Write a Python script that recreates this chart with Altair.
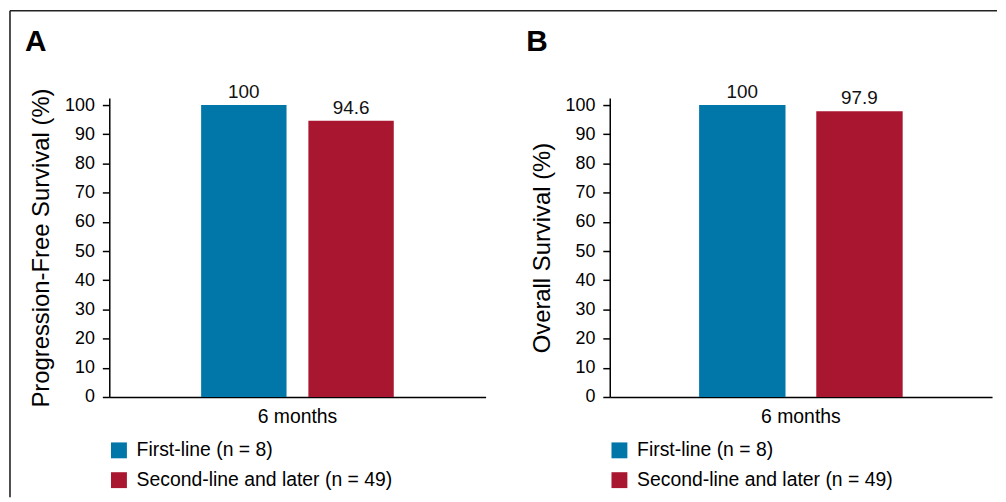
import altair as alt
import pandas as pd

FONT = "Liberation Sans"

groups = ["First-line (n = 8)", "Second-line and later (n = 49)"]
colors = ["#0077A8", "#A8172F"]
timepoint = "6 months"
pfs_values = [100, 94.6]
os_values = [100, 97.9]
y_ticks = [0, 10, 20, 30, 40, 50, 60, 70, 80, 90, 100]


def panel(values, ytitle, letter, width, po, pi, letter_x, frame=False):
    df = pd.DataFrame({
        "time": [timepoint] * len(groups),
        "group": groups,
        "value": values,
        "label": [f"{v:g}" for v in values],
    })
    base = alt.Chart(df).encode(
        x=alt.X("time:N", scale=alt.Scale(paddingInner=0, paddingOuter=po),
                axis=alt.Axis(title=None, labelAngle=0, ticks=False, labelPadding=11,
                              labelFontSize=19.5, labelFont=FONT, labelColor="black",
                              domainColor="black", domainWidth=1.5)),
        xOffset=alt.XOffset("group:N", sort=groups,
                            scale=alt.Scale(paddingInner=pi, paddingOuter=0)),
        y=alt.Y("value:Q", scale=alt.Scale(domain=[0, 102.4], nice=False),
                axis=alt.Axis(values=y_ticks, title=ytitle, grid=False,
                              labelFontSize=18, labelFont=FONT, labelColor="black",
                              labelPadding=8, tickSize=7, tickColor="black", tickWidth=1.5,
                              domainColor="black", domainWidth=1.5,
                              titleFontSize=24, titleFont=FONT, titleFontWeight="normal",
                              titleColor="black", titlePadding=11)),
    )
    bars = base.mark_bar().encode(
        color=alt.Color("group:N", sort=groups,
                        scale=alt.Scale(domain=groups, range=colors),
                        legend=alt.Legend(orient="none", legendX=0, legendY=345,
                                          direction="vertical", title=None,
                                          symbolType="square", symbolSize=256,
                                          symbolStrokeWidth=0, symbolOffset=0,
                                          labelFontSize=19.5, labelFont=FONT,
                                          labelColor="black", rowPadding=9,
                                          labelOffset=8, padding=0, labelLimit=400))
    )
    labels = base.mark_text(baseline="alphabetic", dy=-7, fontSize=19, font=FONT,
                            color="#111111").encode(text="label:N")
    letter_mark = alt.Chart(alt.Data(values=[{"t": letter}])).mark_text(
        align="left", baseline="alphabetic", fontSize=30, fontWeight="bold",
        font=FONT, color="black"
    ).encode(x=alt.value(letter_x), y=alt.value(-47), text="t:N")
    layers = [bars, labels, letter_mark]
    if frame:
        fdata = alt.Data(values=[{"k": 0}])
        top = alt.Chart(fdata).mark_rule(color="#222222", strokeWidth=1.6).encode(
            x=alt.value(-100), x2=alt.value(894), y=alt.value(-88))
        left = alt.Chart(fdata).mark_rule(color="#222222", strokeWidth=1.6).encode(
            x=alt.value(-100), y=alt.value(-88), y2=alt.value(402))
        layers += [top, left]
    return alt.layer(*layers).properties(width=width, height=301)


A = panel(pfs_values, "Progression-Free Survival (%)", "A", 379, 0.4768, 0.2037, -85, frame=True)
B = panel(os_values, "Overall Survival (%)", "B", 385, 0.439, 0.2627, -84)

chart = alt.hconcat(A, B, spacing=125, bounds="flush").resolve_scale(
    x="independent", xOffset="independent", y="independent", color="independent"
).resolve_legend(color="independent").properties(
    padding={"left": 1, "top": 0, "right": 0, "bottom": 0}
).configure_view(strokeWidth=0)

chart.save("out.html", embed_options={"renderer": "svg", "actions": False})
